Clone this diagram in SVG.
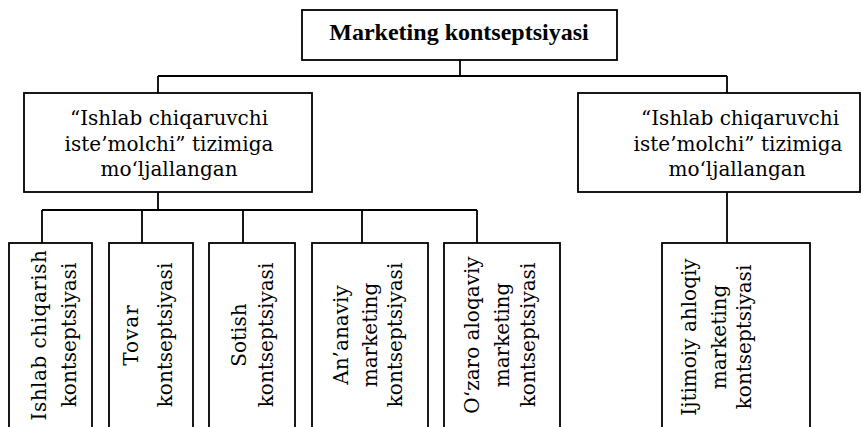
<svg xmlns="http://www.w3.org/2000/svg" width="862" height="427" viewBox="0 0 862 427">
<style>
.box{fill:#fff;stroke:#000;stroke-width:1.8}
.ln{fill:none;stroke:#000;stroke-width:1.8}
text{font-family:"DejaVu Serif","Liberation Serif",serif;font-size:20px;fill:#000}
.title{font-family:"Liberation Serif","Times New Roman",serif;font-weight:bold;font-size:24px}
</style>
<rect width="862" height="427" fill="#fff"/>
<g id="connectors">
<path class="ln" d="M460 60V76M158 76H727M158 76V93M727 76V93"/>
<path class="ln" d="M158 192V210M42 210H477M42 210V243M142 210V243M243 210V243M362 210V243M477 210V243"/>
<path class="ln" d="M727 192V243"/>
</g>
<g id="root">
<rect class="box" x="302" y="10" width="315" height="50"/>
<text class="title" x="459" y="40" text-anchor="middle">Marketing kontseptsiyasi</text>
</g>
<g id="left-group">
<rect class="box" x="24" y="93" width="288" height="99"/>
<text text-anchor="middle"><tspan x="169" y="125">“Ishlab chiqaruvchi</tspan><tspan x="169" y="151">iste’molchi” tizimiga</tspan><tspan x="169" y="176">mo‘ljallangan</tspan></text>
</g>
<g id="right-group">
<rect class="box" x="578" y="93" width="282" height="99"/>
<text text-anchor="middle"><tspan x="740" y="125">“Ishlab chiqaruvchi</tspan><tspan x="738" y="151">iste’molchi” tizimiga</tspan><tspan x="737" y="176">mo‘ljallangan</tspan></text>
</g>
<g id="n1">
<rect class="box" x="9" y="243" width="83" height="200"/>
<text text-anchor="middle" transform="translate(0,335) rotate(-90)"><tspan x="0" y="46" letter-spacing="0.5">Ishlab chiqarish</tspan><tspan x="0" y="76">kontseptsiyasi</tspan></text>
</g>
<g id="n2">
<rect class="box" x="109" y="243" width="84" height="200"/>
<text text-anchor="middle" transform="translate(0,335) rotate(-90)"><tspan x="0" y="138" letter-spacing="1">Tovar</tspan><tspan x="0" y="172">kontseptsiyasi</tspan></text>
</g>
<g id="n3">
<rect class="box" x="209" y="243" width="86" height="200"/>
<text text-anchor="middle" transform="translate(0,335) rotate(-90)"><tspan x="0" y="246">Sotish</tspan><tspan x="0" y="273">kontseptsiyasi</tspan></text>
</g>
<g id="n4">
<rect class="box" x="312" y="243" width="116" height="200"/>
<text text-anchor="middle" transform="translate(0,335) rotate(-90)"><tspan x="0" y="348">An’anaviy</tspan><tspan x="0" y="377">marketing</tspan><tspan x="0" y="402">kontseptsiyasi</tspan></text>
</g>
<g id="n5">
<rect class="box" x="444" y="243" width="116" height="200"/>
<text text-anchor="middle" transform="translate(0,335) rotate(-90)"><tspan x="0" y="479">O‘zaro aloqaviy</tspan><tspan x="0" y="509">marketing</tspan><tspan x="0" y="535">kontseptsiyasi</tspan></text>
</g>
<g id="n6">
<rect class="box" x="662" y="243" width="148" height="200"/>
<text text-anchor="middle" transform="translate(0,337) rotate(-90)"><tspan x="0" y="696">Ijtimoiy ahloqiy</tspan><tspan x="0" y="726">marketing</tspan><tspan x="0" y="751">kontseptsiyasi</tspan></text>
</g>
</svg>
